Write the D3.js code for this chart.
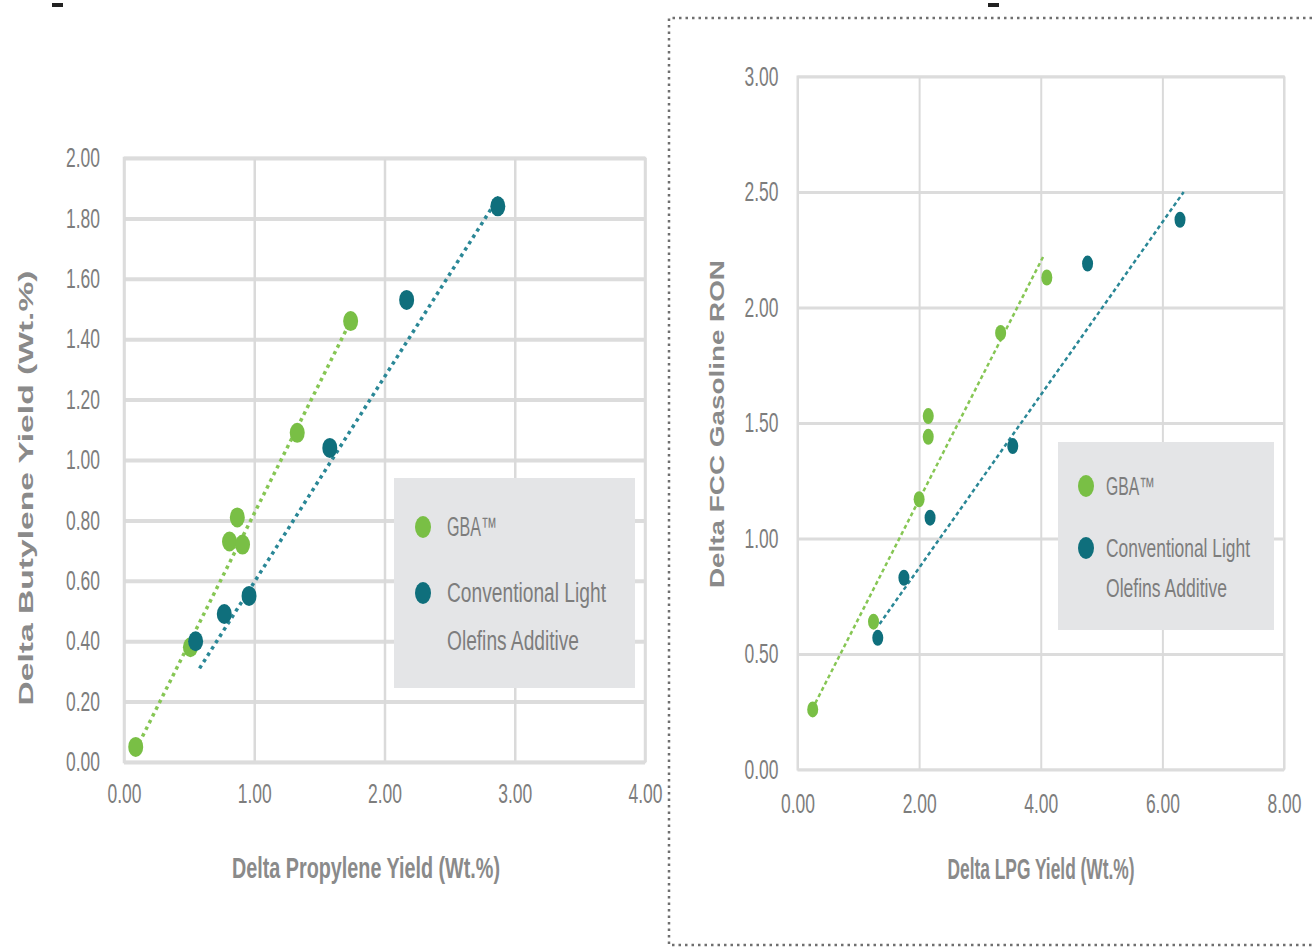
<!DOCTYPE html>
<html>
<head>
    <title>Delta Yield Charts</title>
    <script src="https://cdn.jsdelivr.net/npm/d3@7"></script>
    <style>
        body { margin: 0; background: #ffffff; }
        svg text { font-family: "Liberation Sans Narrow", "Liberation Sans", Arial, sans-serif; }
    </style>
</head>
<body>
<svg id="chart" width="1312" height="948"></svg>

<script>
    // Left chart: butylene vs propylene
    const leftXTicks = [0, 1, 2, 3, 4];
    const leftYTicks = [0, 0.2, 0.4, 0.6, 0.8, 1.0, 1.2, 1.4, 1.6, 1.8, 2.0];
    const leftGbaX = [0.09, 0.51, 0.81, 0.87, 0.91, 1.33, 1.74];
    const leftGbaY = [0.05, 0.38, 0.73, 0.81, 0.72, 1.09, 1.46];
    const leftClaX = [0.55, 0.77, 0.96, 1.58, 2.17, 2.87];
    const leftClaY = [0.40, 0.49, 0.55, 1.04, 1.53, 1.84];
    const leftGbaTrend = [[0.09, 0.04], [1.74, 1.46]];
    const leftClaTrend = [[0.58, 0.31], [2.89, 1.88]];

    // Right chart: RON vs LPG
    const rightXTicks = [0, 2, 4, 6, 8];
    const rightYTicks = [0, 0.5, 1.0, 1.5, 2.0, 2.5, 3.0];
    const rightGbaX = [0.25, 1.25, 2.00, 2.15, 2.15, 3.34, 4.10];
    const rightGbaY = [0.26, 0.64, 1.17, 1.44, 1.53, 1.89, 2.13];
    const rightClaX = [1.32, 1.75, 2.18, 3.54, 4.77, 6.29];
    const rightClaY = [0.57, 0.83, 1.09, 1.40, 2.19, 2.38];
    const rightGbaTrend = [[0.24, 0.26], [4.04, 2.22]];
    const rightClaTrend = [[1.35, 0.63], [6.35, 2.50]];

    const seriesNames = ["GBA\u2122", ["Conventional Light", "Olefins Additive"]];

    const GREEN = "#79bf45";
    const TEAL = "#0f6f7c";
    const GREEN_LINE = "#86c654";
    const TEAL_LINE = "#2a8796";
    const TICK_COLOR = "#7d7d7d";
    const TITLE_COLOR = "#8a8a8a";

    const svg = d3.select("#chart");
    const fmt = d3.format(".2f");

    function drawPanel(cfg) {
        const x = d3.scaleLinear().domain(cfg.xDomain).range(cfg.xRange);
        const y = d3.scaleLinear().domain(cfg.yDomain).range(cfg.yRange);
        const g = svg.append("g");
        const w = cfg.xRange[1] - cfg.xRange[0];
        const h = cfg.yRange[0] - cfg.yRange[1];

        // gridlines
        g.append("g")
            .attr("transform", `translate(${cfg.xRange[0]},0)`)
            .call(d3.axisLeft(y).tickValues(cfg.yTicks).tickSize(-w).tickFormat(""))
            .call(s => s.select(".domain").remove())
            .selectAll("line")
            .attr("stroke", "#dcdcdc")
            .attr("stroke-width", cfg.hGrid);

        g.append("g")
            .attr("transform", `translate(0,${cfg.yRange[0]})`)
            .call(d3.axisBottom(x).tickValues(cfg.xTicks).tickSize(-h).tickFormat(""))
            .call(s => s.select(".domain").remove())
            .selectAll("line")
            .attr("stroke", "#dadada")
            .attr("stroke-width", cfg.vGrid);

        // frame
        g.append("rect")
            .attr("x", cfg.xRange[0])
            .attr("y", cfg.yRange[1])
            .attr("width", w)
            .attr("height", h)
            .attr("fill", "none")
            .attr("stroke", "#dcdcdc")
            .attr("stroke-width", cfg.vGrid);

        // tick labels
        const yAx = g.append("g")
            .attr("transform", `translate(${cfg.xRange[0]},0)`)
            .call(d3.axisLeft(y).tickValues(cfg.yTicks).tickSize(0).tickPadding(cfg.yPad).tickFormat(fmt));
        yAx.select(".domain").remove();
        yAx.selectAll("text")
            .attr("font-size", 27)
            .attr("fill", TICK_COLOR)
            .attr("font-family", null)
            .attr("textLength", 34)
            .attr("lengthAdjust", "spacingAndGlyphs");

        const xAx = g.append("g")
            .attr("transform", `translate(0,${cfg.yRange[0]})`)
            .call(d3.axisBottom(x).tickValues(cfg.xTicks).tickSize(0).tickPadding(cfg.xPad).tickFormat(fmt));
        xAx.select(".domain").remove();
        xAx.selectAll("text")
            .attr("font-size", 27)
            .attr("fill", TICK_COLOR)
            .attr("font-family", null)
            .attr("textLength", 34)
            .attr("lengthAdjust", "spacingAndGlyphs");

        // axis titles
        g.append("text")
            .attr("x", cfg.xTitle[0])
            .attr("y", cfg.xTitle[1])
            .attr("text-anchor", "middle")
            .attr("dominant-baseline", "central")
            .attr("font-size", 29)
            .attr("font-weight", "bold")
            .attr("fill", TITLE_COLOR)
            .attr("textLength", cfg.xTitle[2])
            .attr("lengthAdjust", "spacingAndGlyphs")
            .text(cfg.xLabel);

        g.append("text")
            .attr("transform", `translate(${cfg.yTitle[0]},${cfg.yTitle[1]}) rotate(-90)`)
            .attr("text-anchor", "middle")
            .attr("dominant-baseline", "central")
            .attr("font-size", 21)
            .attr("font-weight", "bold")
            .attr("fill", TITLE_COLOR)
            .style("font-family", "'Liberation Sans', Arial, sans-serif")
            .attr("textLength", cfg.yTitle[2])
            .attr("lengthAdjust", "spacingAndGlyphs")
            .text(cfg.yLabel);

        // trend lines
        const line = d3.line().x(d => x(d[0])).y(d => y(d[1]));
        [[cfg.gbaTrend, GREEN_LINE], [cfg.claTrend, TEAL_LINE]].forEach(([pts, col]) => {
            g.append("path")
                .attr("d", line(pts))
                .attr("fill", "none")
                .attr("stroke", col)
                .attr("stroke-width", cfg.trendWidth)
                .attr("stroke-dasharray", cfg.trendDash);
        });

        // points
        const drawPts = (xs, ys, col) => {
            g.append("g").selectAll("ellipse")
                .data(xs.map((v, i) => [v, ys[i]]))
                .join("ellipse")
                .attr("cx", d => x(d[0]))
                .attr("cy", d => y(d[1]))
                .attr("rx", cfg.rx)
                .attr("ry", cfg.ry)
                .attr("fill", col);
        };
        drawPts(cfg.gbaX, cfg.gbaY, GREEN);
        drawPts(cfg.claX, cfg.claY, TEAL);

        // legend
        const L = cfg.legend;
        const lg = g.append("g").attr("transform", `translate(${L.x},${L.y})`);
        lg.append("rect")
            .attr("width", L.w)
            .attr("height", L.h)
            .attr("fill", "#e4e5e7");
        const rows = [
            {col: GREEN, dy: L.rows[0], lines: [seriesNames[0]], len: [L.lens[0]]},
            {col: TEAL, dy: L.rows[1], lines: seriesNames[1], len: L.lens.slice(1)}
        ];
        rows.forEach(r => {
            lg.append("ellipse")
                .attr("cx", L.dotX)
                .attr("cy", r.dy)
                .attr("rx", 8)
                .attr("ry", 11)
                .attr("fill", r.col);
            r.lines.forEach((t, j) => {
                lg.append("text")
                    .attr("x", L.textX)
                    .attr("y", r.dy + j * L.lineGap)
                    .attr("dominant-baseline", "central")
                    .attr("font-size", L.fs)
                    .attr("fill", TICK_COLOR)
                    .attr("textLength", r.len[j])
                    .attr("lengthAdjust", "spacingAndGlyphs")
                    .text(t);
            });
        });
    }

    drawPanel({
        xDomain: [0, 4], xRange: [124, 645],
        yDomain: [0, 2], yRange: [762, 158],
        xTicks: leftXTicks, yTicks: leftYTicks,
        hGrid: 4, vGrid: 2.5, yPad: 24, xPad: 22,
        xLabel: "Delta Propylene Yield (Wt.%)", xTitle: [366, 868, 268],
        yLabel: "Delta Butylene Yield (Wt.%)", yTitle: [25, 488, 435],
        gbaX: leftGbaX, gbaY: leftGbaY, claX: leftClaX, claY: leftClaY,
        gbaTrend: leftGbaTrend, claTrend: leftClaTrend,
        trendWidth: 3.5, trendDash: "3.5,4", rx: 7.5, ry: 10,
        legend: {x: 394, y: 478, w: 241, h: 210, dotX: 29, textX: 53, fs: 27,
                 rows: [49, 115], lineGap: 48, lens: [50, 159, 132]}
    });

    drawPanel({
        xDomain: [0, 8], xRange: [797.5, 1284],
        yDomain: [0, 3], yRange: [769.5, 76.5],
        xTicks: rightXTicks, yTicks: rightYTicks,
        hGrid: 3, vGrid: 2, yPad: 19, xPad: 24,
        xLabel: "Delta LPG Yield (Wt.%)", xTitle: [1041, 869, 187],
        yLabel: "Delta FCC Gasoline RON", yTitle: [716, 424, 328],
        gbaX: rightGbaX, gbaY: rightGbaY, claX: rightClaX, claY: rightClaY,
        gbaTrend: rightGbaTrend, claTrend: rightClaTrend,
        trendWidth: 2.5, trendDash: "4,3", rx: 5.5, ry: 8,
        legend: {x: 1058, y: 442, w: 216, h: 188, dotX: 28, textX: 48, fs: 25,
                 rows: [44, 106], lineGap: 40, lens: [49, 144, 121]}
    });

    // dotted separator box around the right panel
    const bp = d3.path();
    bp.moveTo(1312, 18);
    bp.lineTo(669, 18);
    bp.lineTo(669, 945);
    bp.lineTo(1312, 945);
    svg.append("path")
        .attr("d", bp.toString())
        .attr("fill", "none")
        .attr("stroke", "#6f6f6f")
        .attr("stroke-width", 2.5)
        .attr("stroke-dasharray", "2.5,4");

    // cropped remnants of titles above the panels
    svg.append("rect").attr("x", 52).attr("y", 3).attr("width", 11).attr("height", 4).attr("fill", "#222");
    svg.append("rect").attr("x", 988).attr("y", 3).attr("width", 11).attr("height", 4).attr("fill", "#222");
</script>
</body>
</html>
